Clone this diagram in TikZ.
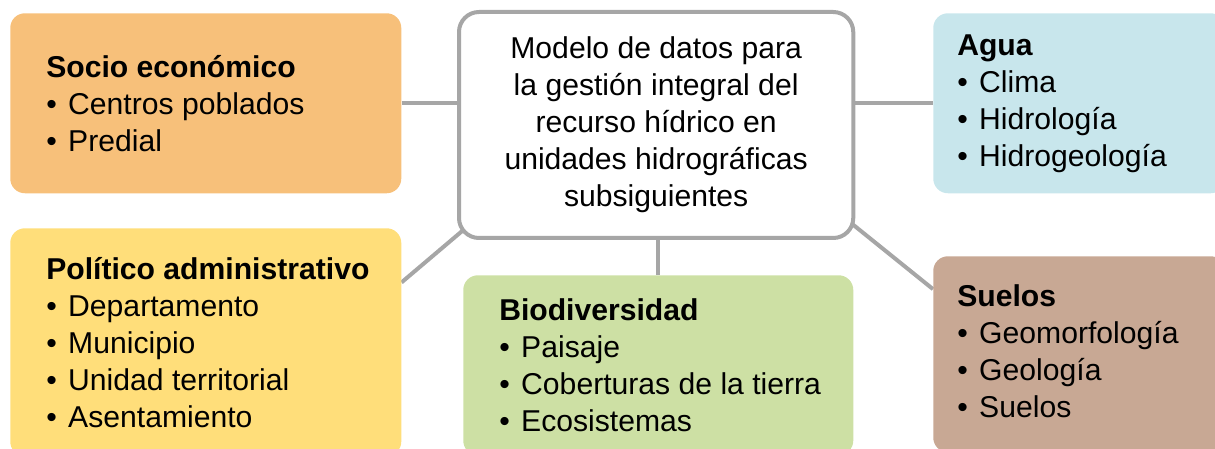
\documentclass[tikz,border=0pt]{standalone}
\usepackage{fontspec}
\setmainfont{Liberation Sans}
\usetikzlibrary{positioning,backgrounds}

\definecolor{socioorange}{HTML}{F7C07A}
\definecolor{poliyellow}{HTML}{FFDE7A}
\definecolor{aguablue}{HTML}{C8E6EC}
\definecolor{suelobrown}{HTML}{C8A894}
\definecolor{biogreen}{HTML}{CDE0A4}
\definecolor{linkgray}{HTML}{A6A6A6}

\newcommand\itm[1]{\makebox[16.5pt][l]{\textbullet}#1}

\begin{document}
\begin{tikzpicture}[x=0.75pt, y=-0.75pt, node distance=1cm]

    % Define styles
    \tikzstyle{box} = [rectangle, rounded corners=11pt, anchor=north west, inner sep=0pt]
    \tikzstyle{txt} = [align=left, inner sep=0pt, font=\fontsize{22.6}{27.75}\selectfont]
    \tikzstyle{link} = [draw=linkgray, line width=3pt]

    \useasboundingbox (0,0) rectangle (1215,449);

    % BOXES
    \node (centro_box) [box, draw=linkgray, line width=3pt, fill=white, rounded corners=15pt, minimum width=295.7pt, minimum height=169.5pt] at (457,10) {};
    \node (socio_box) [box, fill=socioorange, minimum width=293.25pt, minimum height=135pt] at (10,13) {};
    \node (politico_box) [box, fill=poliyellow, minimum width=293.25pt, minimum height=171pt] at (10,228) {};
    \node (agua_box) [box, fill=aguablue, minimum width=219pt, minimum height=135pt] at (933,13) {};
    \node (suelos_box) [box, fill=suelobrown, minimum width=219pt, minimum height=147pt] at (933,256) {};
    \node (bio_box) [box, fill=biogreen, minimum width=292.5pt, minimum height=135pt] at (463,275) {};

    % TEXTS
    \node (centro_text) [txt, align=center] at (centro_box.center) {Modelo de datos para\\la gestión integral del\\recurso hídrico en\\unidades hidrográficas\\subsiguientes};
    \node (socio_text) [txt, right=27pt of socio_box.west] {\textbf{Socio económico}\\\itm{Centros poblados}\\\itm{Predial}};
    \node (politico_text) [txt, right=27pt of politico_box.west] {\textbf{Político administrativo}\\\itm{Departamento}\\\itm{Municipio}\\\itm{Unidad territorial}\\\itm{Asentamiento}};
    \node (agua_text) [txt, right=18pt of agua_box.west] {\textbf{Agua}\\\itm{Clima}\\\itm{Hidrología}\\\itm{Hidrogeología}};
    \node (suelos_text) [txt, right=18pt of suelos_box.west, yshift=2pt] {\textbf{Suelos}\\\itm{Geomorfología}\\\itm{Geología}\\\itm{Suelos}};
    \node (bio_text) [txt, right=27pt of bio_box.west] {\textbf{Biodiversidad}\\\itm{Paisaje}\\\itm{Coberturas de la tierra}\\\itm{Ecosistemas}};

    % CONNECTIONS
    \begin{scope}[on background layer]
        \draw[link] (socio_box.east) -- (socio_box.east -| centro_box.west);
        \draw[link] (agua_box.west) -- (agua_box.west -| centro_box.east);
        \draw[link] (bio_box.north) -- (bio_box.north |- centro_box.south);
        \draw[link, shorten >=-14pt] (politico_box.17) -- (centro_box.209);
        \draw[link, shorten >=-14pt] (suelos_box.156) -- (centro_box.-27);
    \end{scope}

\end{tikzpicture}
\end{document}
